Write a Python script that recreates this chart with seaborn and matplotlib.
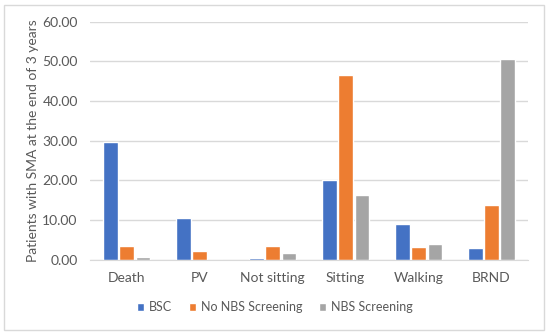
import numpy as np
import pandas as pd
import seaborn as sns
import matplotlib.pyplot as plt
from matplotlib.patches import Rectangle

sns.set_style("white")
plt.rcParams['font.family'] = ['Lato', 'DejaVu Sans']

categories = ['Death', 'PV', 'Not sitting', 'Sitting', 'Walking', 'BRND']
series = ['BSC', 'No NBS Screening', 'NBS Screening']
bsc = [29.6, 10.4, 0.4, 20.0, 9.0, 3.0]
no_nbs = [3.5, 2.1, 3.5, 46.6, 3.2, 13.7]
nbs = [0.7, 0.0, 1.6, 16.2, 3.9, 50.5]
colors = ['#4472C4', '#ED7D31', '#A5A5A5']
text_color = '#595959'

rows = []
for name, vals in zip(series, [bsc, no_nbs, nbs]):
    for cat, v in zip(categories, vals):
        rows.append([cat, name, v])
df = pd.DataFrame(rows, columns=['outcome', 'group', 'value'])

fig = plt.figure(figsize=(5.5, 3.35), dpi=100)
ax = fig.add_axes([0.164, 0.225, 0.796, 0.71])
sns.barplot(data=df, x='outcome', y='value', hue='group', palette=colors,
            width=0.67, gap=0.1, ax=ax, saturation=1, legend=True)

ax.set_ylim(0, 60)
ax.set_yticks(np.arange(0, 61, 10))
ax.set_yticklabels(['%.2f' % t for t in np.arange(0, 61, 10)])
ax.yaxis.grid(True, color='#D9D9D9', linewidth=1)
ax.set_axisbelow(True)
for s in ['top', 'right', 'left']:
    ax.spines[s].set_visible(False)
ax.spines['bottom'].set_color('#D9D9D9')
ax.tick_params(axis='both', length=0, labelsize=10, colors=text_color, pad=9)
ax.set_xlabel('')
ax.set_ylabel('Patients with SMA at the end of 3 years', fontsize=10, color=text_color)
ax.yaxis.set_label_coords(-0.118, 0.5)

handles, labels = ax.get_legend_handles_labels()
ax.legend(handles, labels, loc='center', ncol=3, frameon=False, fontsize=9,
          labelcolor=text_color, handlelength=0.6, handleheight=0.6,
          handletextpad=0.4, columnspacing=1.3)
ax.get_legend().set_bbox_to_anchor((0.5, 1 - 307 / 335), transform=fig.transFigure)

fig.patches.append(Rectangle((4 / 550, 5 / 335), 540 / 550, 325 / 335, transform=fig.transFigure,
                             fill=False, edgecolor='#D9D9D9', linewidth=1))

plt.savefig('out.png', dpi=100)
